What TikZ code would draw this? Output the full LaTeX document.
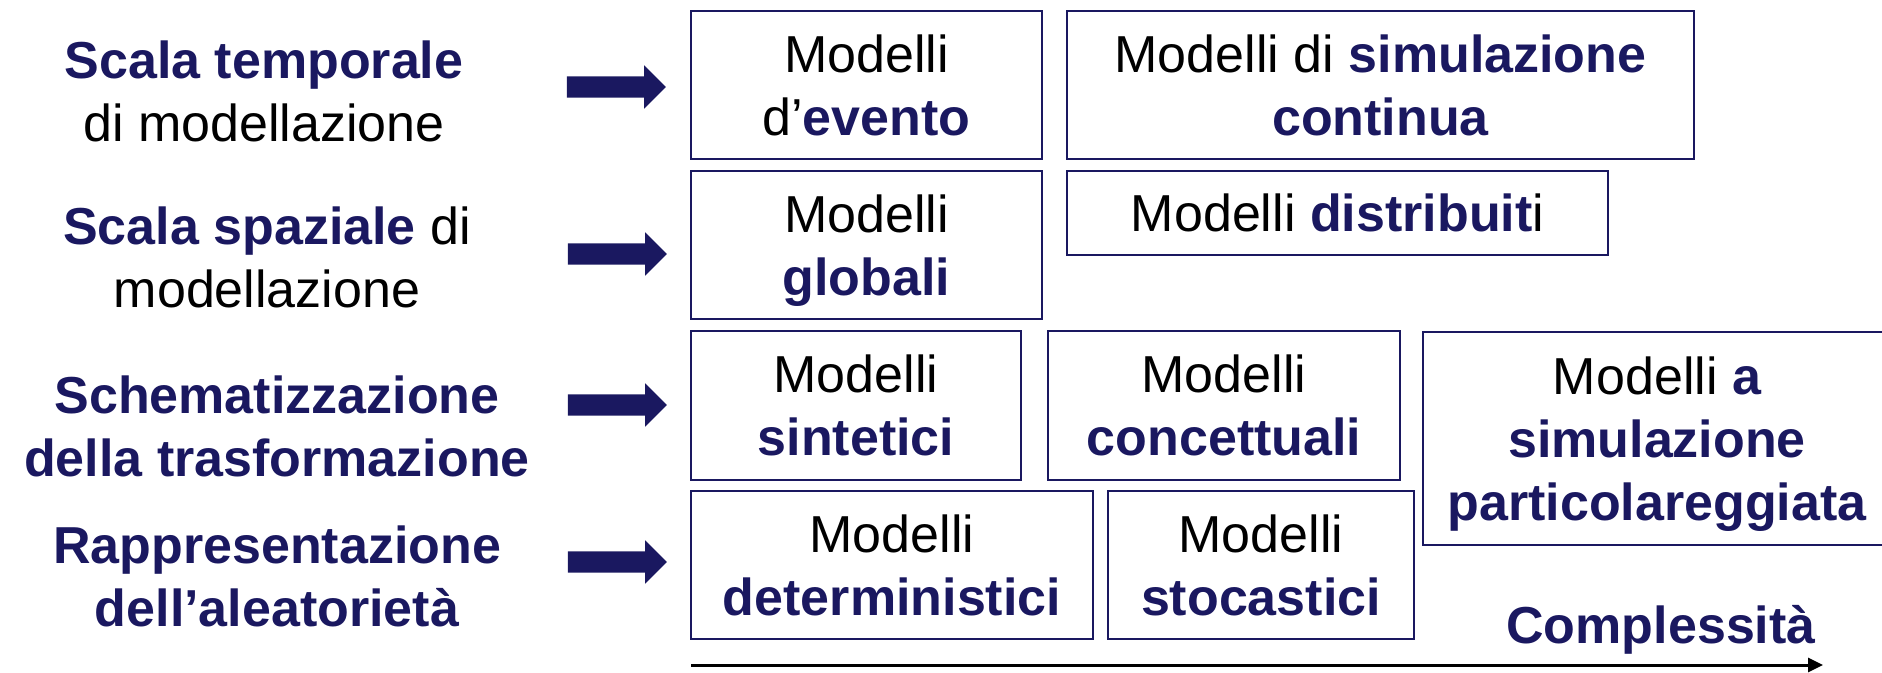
\documentclass[tikz,border=0pt]{standalone}
\usepackage{fontspec}
\setmainfont{Liberation Sans}
\usepackage{tikz}
\usetikzlibrary{shapes.arrows,arrows.meta}
\definecolor{navy}{RGB}{26,24,96}
\newcommand{\blu}[1]{\textbf{\color{navy}#1}}
\tikzstyle{modello}=[rectangle,draw=navy,line width=2.5pt,align=center,text depth=0pt,inner sep=0pt]
\tikzstyle{scala}=[align=center,text depth=0pt,inner sep=0pt]
\tikzstyle{freccia}=[single arrow,fill=navy,inner xsep=0pt,inner ysep=10.5pt,text height=0pt,text depth=0pt,minimum width=43pt,minimum height=99pt,single arrow head extend=11pt,single arrow head indent=0pt]

\begin{document}
\begin{tikzpicture}[x=1pt,y=-1pt,font=\fontsize{52}{63}\selectfont]
      \useasboundingbox (0,0) rectangle (1882,672);
      % criteri
      \node [scala] (temporale) at (264,91) {\blu{Scala temporale}\\di modellazione};
      \node [scala] (spaziale) at (267,257) {\blu{Scala spaziale} di\\modellazione};
      \node [scala] (schema) at (277,426) {\blu{Schematizzazione}\\\blu{della trasformazione}};
      \node [scala] (alea) at (277,576) {\blu{Rappresentazione}\\\blu{dell'aleatorietà}};
      \node [freccia] (f1) at (611,87) {};
      \node [freccia] (f2) at (612,254) {};
      \node [freccia] (f3) at (612,405) {};
      \node [freccia] (f4) at (612,562) {};
      % modelli
      \node [modello,minimum width=351pt,minimum height=148pt] (evento) at (866.5,85) {Modelli\\d'\blu{evento}};
      \node [modello,minimum width=627pt,minimum height=148pt] (continua) at (1380.5,85) {Modelli di \blu{simulazione}\\\blu{continua}};
      \node [modello,minimum width=351pt,minimum height=148pt] (globali) at (866.5,245) {Modelli\\\blu{globali}};
      \node [modello,minimum width=541pt,minimum height=84pt] (distribuiti) at (1337.5,213) {Modelli \blu{distribuit}i};
      \node [modello,minimum width=330pt,minimum height=149pt] (sintetici) at (856,405.5) {Modelli\\\blu{sintetici}};
      \node [modello,minimum width=352pt,minimum height=149pt] (concettuali) at (1224,405.5) {Modelli\\\blu{concettuali}};
      \node [modello,minimum width=468pt,minimum height=213pt] (dettaglio) at (1657,438.5) {Modelli \blu{a}\\\blu{simulazione}\\\blu{particolareggiata}};
      \node [modello,minimum width=402pt,minimum height=148pt] (deterministici) at (892,565) {Modelli\\\blu{deterministici}};
      \node [modello,minimum width=306pt,minimum height=148pt] (stocastici) at (1261,565) {Modelli\\\blu{stocastici}};
      % complessita
      \node [anchor=base,inner sep=0pt] (complessita) at (1661,643) {\blu{Complessità}};
      \coordinate (inizio) at (691,665);
      \coordinate (fine) at (1823,665);
      \draw [line width=3pt,-{Triangle[length=15pt,width=14pt]}] (inizio) -- (fine);
    \end{tikzpicture}
\end{document}
